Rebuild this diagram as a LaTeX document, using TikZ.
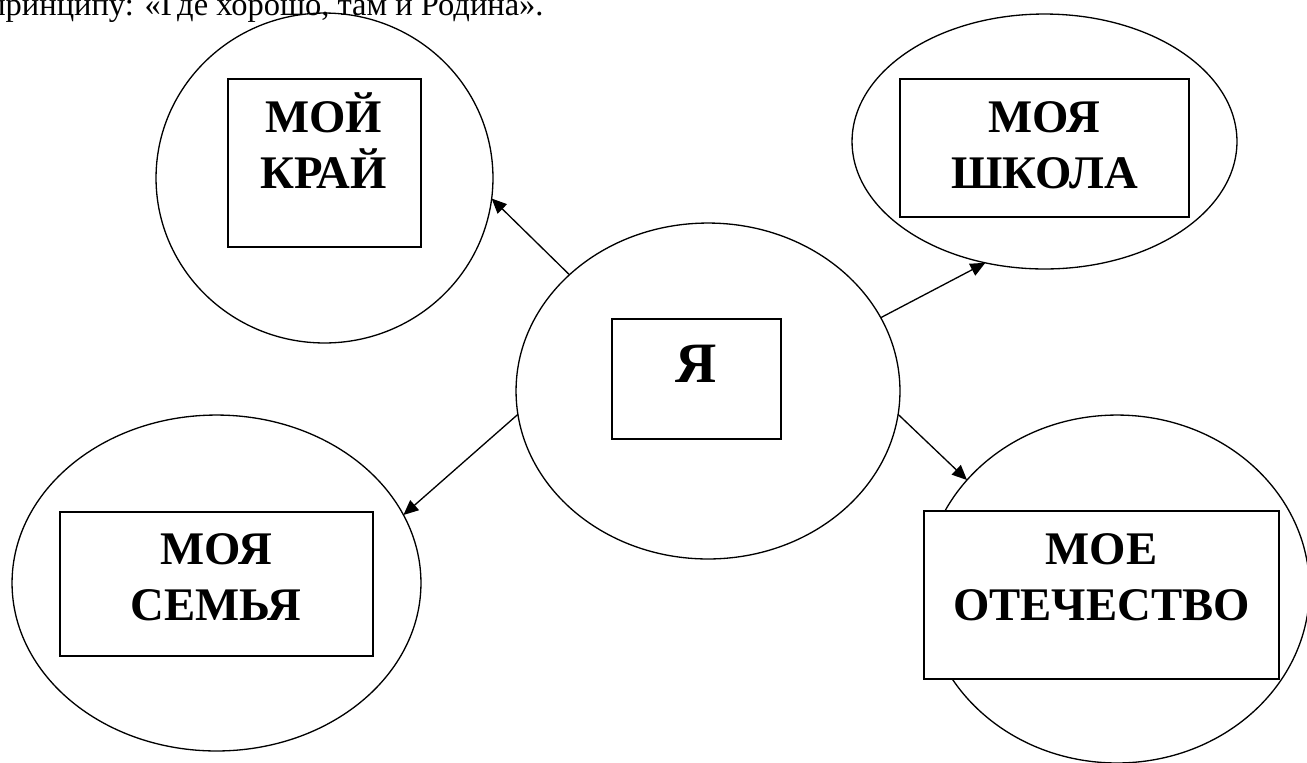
\documentclass[tikz,border=0pt]{standalone}
\usepackage{fontspec}
\setmainfont{Liberation Serif}
\usetikzlibrary{shapes.geometric,arrows.meta}

\begin{document}
\begin{tikzpicture}[x=0.02cm,y=-0.02cm,
    ring/.style={ellipse,draw,line width=0.75pt,inner sep=0pt,outer sep=0pt},
    frame/.style={rectangle,draw,fill=white,line width=0.8pt,inner sep=0pt},
    caption/.style={align=center,inner sep=0pt,anchor=base,font=\bfseries\fontsize{26.6}{31.7}\selectfont},
    arr/.style={line width=0.75pt,-{Triangle[length=8.5pt,width=7.5pt]}}]

    \useasboundingbox (0,0) rectangle (1307,762);
    \clip (0,0) rectangle (1307,762);

    \node[anchor=base west,inner sep=0pt,font=\fontsize{18.5}{22}\selectfont] (quote) at (-12,15) {принципу: «Где хорошо, там и Родина».};

    \node[ring,minimum width=6.74cm,minimum height=6.6cm] (kray) at (324.5,178) {};
    \node[ring,minimum width=7.7cm,minimum height=5.1cm] (shkola) at (1044.5,141.5) {};
    \node[ring,minimum width=7.68cm,minimum height=6.72cm] (me) at (708,391) {};
    \node[ring,minimum width=8.18cm,minimum height=6.72cm] (semya) at (216.5,583) {};
    \node[ring,minimum width=7.7cm,minimum height=6.96cm] (otech) at (1117,589) {};

    \node[frame,minimum width=3.86cm,minimum height=3.36cm] (kraybox) at (324.5,163) {};
    \node[frame,minimum width=5.78cm,minimum height=2.76cm] (shkolabox) at (1044.5,148) {};
    \node[frame,minimum width=3.38cm,minimum height=2.4cm] (mebox) at (696.5,379) {};
    \node[frame,minimum width=6.26cm,minimum height=2.88cm] (semyabox) at (216.5,584) {};
    \node[frame,minimum width=7.1cm,minimum height=3.36cm] (otechbox) at (1101.5,595) {};

    \node[caption] (krayt) at (323.5,188) {МОЙ\\КРАЙ};
    \node[caption] (shkolat) at (1044.5,188) {МОЯ\\ШКОЛА};
    \node[caption,font=\bfseries\fontsize{32.5}{39}\selectfont] (met) at (696,382) {Я};
    \node[caption] (semyat) at (216,620) {МОЯ\\СЕМЬЯ};
    \node[caption] (otecht) at (1101.5,620) {МОЕ\\ОТЕЧЕСТВО};

    \draw[arr] (me.140) -- (kray.-7);
    \draw[arr] (me.23) -- (shkola.-116);
    \draw[arr] (me.-7) -- (otech.144);
    \draw[arr] (me.-173) -- (semya.20);

\end{tikzpicture}
\end{document}
